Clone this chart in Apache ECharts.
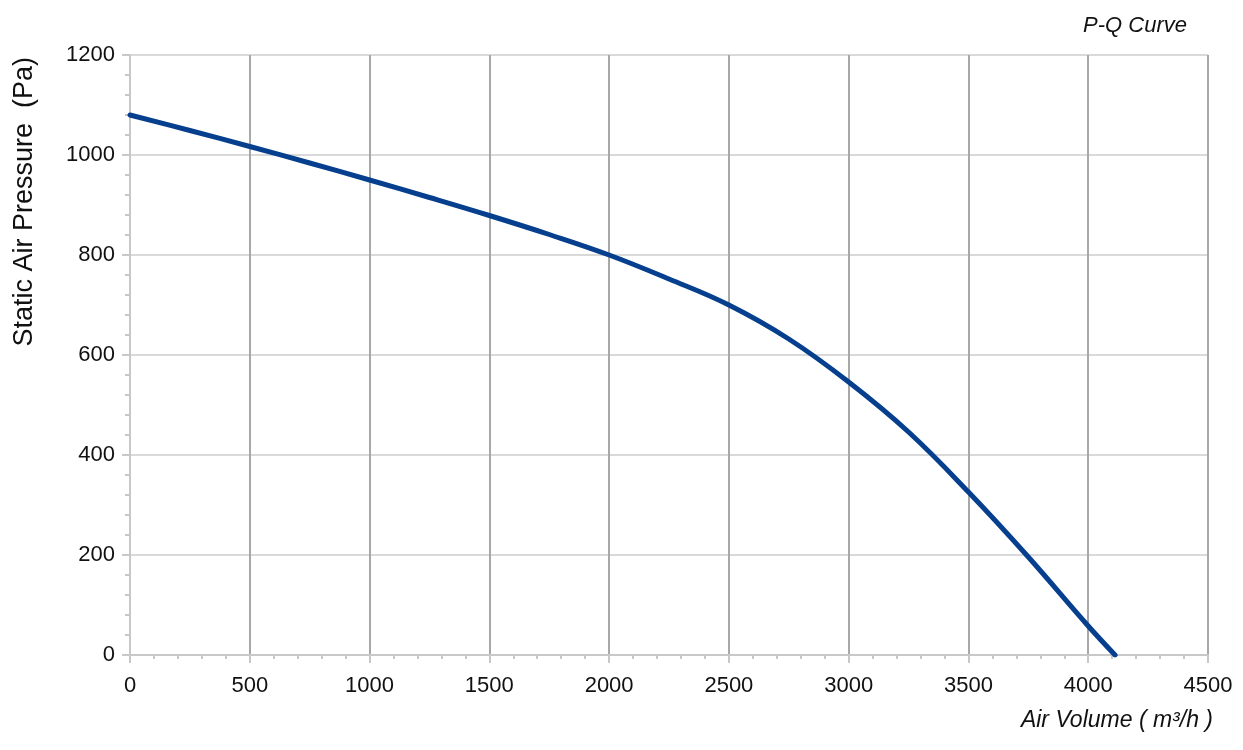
<!DOCTYPE html>
<html><head><meta charset="utf-8">
<script src="https://cdn.jsdelivr.net/npm/echarts@6/dist/echarts.min.js"></script>
<style>html,body{margin:0;padding:0;background:#fff}#c{width:1243px;height:750px}</style>
</head><body><div id="c"></div>
<script>
const airVolume = [0,250,500,750,1000,1250,1500,1750,2000,2250,2500,2750,3000,3250,3500,3750,4000,4112];
const pressure  = [1080,1049,1017,984,950,915,879,841,800,752,700,632,546,446,326,196,58,0];
const xTicks = [0,500,1000,1500,2000,2500,3000,3500,4000,4500];
const yTicks = [0,200,400,600,800,1000,1200];

const chart = echarts.init(document.getElementById('c'));
const font = 'Liberation Sans, Arial, sans-serif';
chart.setOption({
  animation:false,
  backgroundColor:'#fff',
  title:{text:'P-Q Curve',right:51,top:10,textStyle:{fontFamily:font,fontStyle:'italic',fontWeight:'normal',fontSize:22,color:'#111'}},
  grid:{left:130,right:35,top:55,bottom:95,containLabel:false},
  graphic:[{type:'text',left:11,top:57,rotation:Math.PI/2,
    style:{text:'Static Air Pressure  (Pa)',font:'27px '+font,fill:'#111'}}],
  xAxis:{type:'value',min:xTicks[0],max:xTicks[xTicks.length-1],interval:500,
    name:'Air Volume ( m³/h )',nameLocation:'end',nameGap:0,
    nameTextStyle:{fontFamily:font,fontStyle:'italic',fontSize:23,color:'#111',align:'right',verticalAlign:'top',padding:[54,-5,0,0]},
    axisLine:{lineStyle:{color:'#c8c8c8',width:2}},
    axisTick:{show:true,length:8,lineStyle:{color:'#c8c8c8',width:2}},
    minorTick:{show:true,splitNumber:5,length:4,lineStyle:{color:'#c8c8c8',width:2}},
    axisLabel:{fontFamily:font,fontSize:22,color:'#111',margin:20,formatter:v=>String(v)},
    splitLine:{show:true,lineStyle:{color:'#a8a8a8',width:2}}},
  yAxis:{type:'value',min:yTicks[0],max:yTicks[yTicks.length-1],interval:200,
    axisLine:{show:true,lineStyle:{color:'#c8c8c8',width:2}},
    axisTick:{show:true,length:8,lineStyle:{color:'#c8c8c8',width:2}},
    minorTick:{show:true,splitNumber:5,length:5,lineStyle:{color:'#c8c8c8',width:2}},
    axisLabel:{fontFamily:font,fontSize:22,color:'#111',margin:15,formatter:v=>String(v)},
    splitLine:{show:true,lineStyle:{color:'#d9d9d9',width:2}}},
  series:[{type:'line',data:airVolume.map((x,i)=>[x,pressure[i]]),smooth:0.4,symbol:'none',
    lineStyle:{color:'#063f8e',width:5,cap:'round'}}]
});
</script></body></html>
